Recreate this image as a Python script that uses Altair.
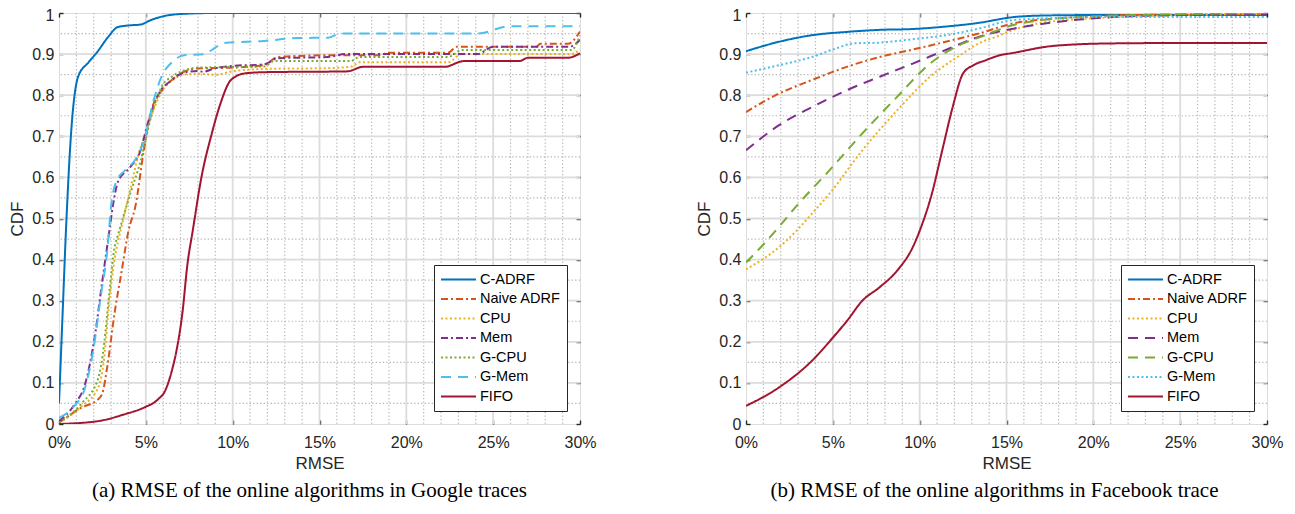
import altair as alt
import pandas as pd

SERIES = ["C-ADRF", "Naive ADRF", "CPU", "Mem", "G-CPU", "G-Mem", "FIFO"]
COLORS = ["#0072BD", "#D95319", "#EDB120", "#7E2F8E", "#77AC30", "#4DBEEE", "#A2142F"]

# ---------------- (a) Google traces ----------------
G_CADRF_X = [0, 0.2, 0.4, 0.7, 1.1, 1.7, 2.2, 2.8, 3.4, 4.1, 4.7, 5.3, 6.1, 7.2, 9, 30]
G_CADRF_Y = [0.05, 0.26, 0.47, 0.71, 0.845, 0.88, 0.905, 0.94, 0.966, 0.97, 0.972, 0.983, 0.993, 0.998, 1.0, 1.0]
G_NAIVE_X = [0, 1.3, 2.25, 2.5, 2.8, 3.2, 3.6, 4.0, 4.4, 4.9, 5.3, 5.9, 6.5, 7.2, 8.0, 9.9, 11.8, 12.6, 15.5, 18.5, 18.9, 22.4, 22.9, 27.5, 27.7, 29.3, 30]
G_NAIVE_Y = [0.003, 0.04, 0.06, 0.075, 0.145, 0.27, 0.37, 0.47, 0.53, 0.67, 0.76, 0.81, 0.837, 0.857, 0.865, 0.867, 0.873, 0.893, 0.897, 0.897, 0.903, 0.903, 0.918, 0.918, 0.925, 0.925, 0.955]
G_CPU_X = [0, 1.3, 2.25, 2.6, 2.9, 3.2, 3.6, 4.1, 4.6, 5.0, 5.5, 6.0, 6.5, 7.2, 8.0, 9.0, 10.0, 11.8, 15.5, 16.8, 17.3, 22.4, 23.2, 29.5, 30]
G_CPU_Y = [0.003, 0.043, 0.088, 0.16, 0.30, 0.40, 0.48, 0.57, 0.66, 0.71, 0.77, 0.815, 0.835, 0.85, 0.852, 0.85, 0.858, 0.864, 0.866, 0.869, 0.88, 0.88, 0.9, 0.9, 0.912]
G_MEM_X = [0, 0.9, 1.5, 2.05, 2.5, 2.9, 3.1, 3.4, 4.1, 4.7, 5.1, 5.7, 6.5, 7.2, 8.0, 8.3, 9.0, 9.9, 11.8, 12.6, 15.5, 16.5, 24.1, 25.0, 29.4, 30]
G_MEM_Y = [0.007, 0.048, 0.097, 0.21, 0.35, 0.47, 0.53, 0.59, 0.625, 0.666, 0.73, 0.80, 0.837, 0.855, 0.859, 0.857, 0.866, 0.871, 0.875, 0.89, 0.893, 0.9, 0.9, 0.918, 0.918, 0.935]
G_GCPU_X = [0, 1.3, 2.25, 2.6, 2.9, 3.2, 3.4, 4.1, 4.7, 5.3, 5.9, 6.5, 7.2, 8.0, 11.8, 12.4, 16.8, 17.3, 22.4, 23.2, 29.5, 30]
G_GCPU_Y = [0.003, 0.05, 0.11, 0.195, 0.32, 0.43, 0.46, 0.56, 0.64, 0.747, 0.82, 0.845, 0.86, 0.867, 0.87, 0.883, 0.883, 0.893, 0.893, 0.91, 0.91, 0.945]
G_GMEM_X = [0, 0.9, 1.5, 2.05, 2.4, 2.8, 3.0, 3.3, 3.8, 4.5, 4.9, 5.5, 5.9, 6.5, 7.2, 8.4, 8.8, 9.5, 11.8, 13.7, 15.5, 16.2, 24.1, 26.0, 30]
G_GMEM_Y = [0.015, 0.045, 0.088, 0.2, 0.31, 0.43, 0.53, 0.59, 0.617, 0.65, 0.69, 0.795, 0.845, 0.88, 0.897, 0.9, 0.91, 0.927, 0.932, 0.939, 0.94, 0.95, 0.95, 0.968, 0.968]
G_FIFO_X = [0, 2.25, 3.8, 4.9, 5.7, 6.1, 6.5, 6.8, 7.1, 7.4, 7.7, 8.2, 8.8, 9.3, 9.9, 10.7, 11.8, 16.6, 17.5, 22.2, 23.3, 26.5, 27.0, 29.3, 30]
G_FIFO_Y = [0, 0.007, 0.024, 0.04, 0.06, 0.08, 0.13, 0.186, 0.268, 0.39, 0.47, 0.6, 0.707, 0.78, 0.837, 0.853, 0.856, 0.858, 0.869, 0.869, 0.883, 0.883, 0.891, 0.891, 0.902]

# ---------------- (b) Facebook trace ----------------
F_CADRF_X = [0, 1.9, 3.8, 5.8, 7.7, 9.6, 11.5, 13.4, 15.4, 17.3, 20, 30]
F_CADRF_Y = [0.907, 0.93, 0.946, 0.954, 0.959, 0.961, 0.967, 0.976, 0.99, 0.994, 0.995, 0.995]
F_NAIVE_X = [0, 1.9, 3.8, 5.8, 7.7, 9.6, 11.5, 13.4, 15.4, 17.3, 19.2, 22, 30]
F_NAIVE_Y = [0.759, 0.804, 0.837, 0.869, 0.893, 0.911, 0.93, 0.95, 0.975, 0.985, 0.99, 0.995, 0.997]
F_CPU_X = [0, 1.9, 2.9, 3.8, 4.8, 6.7, 8.7, 10.6, 12.5, 13.4, 14.4, 15.4, 17.3, 19.2, 25, 30]
F_CPU_Y = [0.376, 0.43, 0.47, 0.512, 0.56, 0.666, 0.763, 0.845, 0.902, 0.926, 0.942, 0.959, 0.978, 0.985, 0.995, 0.998]
F_MEM_X = [0, 1.9, 3.8, 5.8, 7.7, 9.6, 11.5, 13.4, 15.4, 17.3, 19.2, 21.1, 25, 30]
F_MEM_Y = [0.666, 0.727, 0.771, 0.812, 0.845, 0.877, 0.91, 0.942, 0.962, 0.975, 0.984, 0.99, 0.995, 0.997]
F_GCPU_X = [0, 0.96, 1.9, 2.9, 4.8, 6.7, 8.7, 10.6, 12.5, 13.4, 15.4, 17.3, 19.2, 25, 30]
F_GCPU_Y = [0.393, 0.435, 0.48, 0.53, 0.617, 0.707, 0.796, 0.877, 0.926, 0.94, 0.971, 0.984, 0.99, 0.997, 1.0]
F_GMEM_X = [0, 1.9, 3.8, 5.2, 6.2, 7.7, 9.6, 11.5, 13.4, 15.4, 17.3, 20, 30]
F_GMEM_Y = [0.855, 0.873, 0.893, 0.914, 0.926, 0.928, 0.936, 0.946, 0.962, 0.983, 0.987, 0.99, 0.99]
F_FIFO_X = [0, 1.9, 3.8, 5.0, 5.8, 6.7, 7.7, 8.7, 9.6, 10.0, 10.7, 11.3, 11.9, 12.5, 13.1, 13.8, 14.6, 15.4, 17.3, 19.2, 21.1, 25, 30]
F_FIFO_Y = [0.044, 0.089, 0.154, 0.21, 0.25, 0.3, 0.333, 0.373, 0.43, 0.47, 0.56, 0.666, 0.771, 0.853, 0.873, 0.885, 0.897, 0.903, 0.918, 0.924, 0.926, 0.927, 0.927]

# tick / grid positions
X_TICKS = [0, 5, 10, 15, 20, 25, 30]
X_MAJOR_GRID = [5, 10, 15, 20, 25]
X_MINOR_GRID = [1, 2, 3, 4, 6, 7, 8, 9, 11, 12, 13, 14, 16, 17, 18, 19, 21, 22, 23, 24, 26, 27, 28, 29]
Y_TICKS = [0, 0.1, 0.2, 0.3, 0.4, 0.5, 0.6, 0.7, 0.8, 0.9, 1.0]
Y_MAJOR_GRID = [0.1, 0.2, 0.3, 0.4, 0.5, 0.6, 0.7, 0.8, 0.9]
Y_MINOR_GRID = [0.05, 0.15, 0.25, 0.35, 0.45, 0.55, 0.65, 0.75, 0.85, 0.95]

SOLID = [1, 0]
DASHDOT = [7, 3, 2, 3]
DOTTED = [2, 2.5]
DASHED = [10, 7]
DASHES_A = [SOLID, DASHDOT, DOTTED, DASHDOT, DOTTED, DASHED, SOLID]
DASHES_B = [SOLID, DASHDOT, DOTTED, DASHED, DASHED, DOTTED, SOLID]

CAPTION_A = "(a) RMSE of the online algorithms in Google traces"
CAPTION_B = "(b) RMSE of the online algorithms in Facebook trace"

AX = "#262626"
FONT = "Liberation Sans"


def build_df(xs_list, ys_list):
    rows = []
    for name, xs, ys in zip(SERIES, xs_list, ys_list):
        for i, (x, y) in enumerate(zip(xs, ys)):
            rows.append({"series": name, "x": x, "y": y, "order": i})
    return pd.DataFrame(rows)


df_a = build_df([G_CADRF_X, G_NAIVE_X, G_CPU_X, G_MEM_X, G_GCPU_X, G_GMEM_X, G_FIFO_X],
                [G_CADRF_Y, G_NAIVE_Y, G_CPU_Y, G_MEM_Y, G_GCPU_Y, G_GMEM_Y, G_FIFO_Y])
df_b = build_df([F_CADRF_X, F_NAIVE_X, F_CPU_X, F_MEM_X, F_GCPU_X, F_GMEM_X, F_FIFO_X],
                [F_CADRF_Y, F_NAIVE_Y, F_CPU_Y, F_MEM_Y, F_GCPU_Y, F_GMEM_Y, F_FIFO_Y])


def panel(df, dashes, caption, dx):
    xs = alt.Scale(domain=[0, 30], nice=False, zero=False)
    ys = alt.Scale(domain=[0, 1], nice=False, zero=False)
    minor_x = alt.Chart(pd.DataFrame({"v": X_MINOR_GRID})).mark_rule(
        color="#b5b5b5", strokeWidth=1.2, strokeDash=[1.3, 2.2]
    ).encode(x=alt.X("v:Q", scale=xs, axis=None))
    minor_y = alt.Chart(pd.DataFrame({"v": Y_MINOR_GRID})).mark_rule(
        color="#b5b5b5", strokeWidth=1.2, strokeDash=[1.3, 2.2]
    ).encode(y=alt.Y("v:Q", scale=ys, axis=None))
    major_x = alt.Chart(pd.DataFrame({"v": X_MAJOR_GRID})).mark_rule(
        color="#dcdcdc", strokeWidth=1.8
    ).encode(x=alt.X("v:Q", scale=xs, axis=alt.Axis(
        orient="top", values=X_TICKS, labels=False, title=None, domain=False, grid=False,
        ticks=True, tickSize=4, offset=-4, tickColor=AX, tickWidth=1.4)))
    major_y = alt.Chart(pd.DataFrame({"v": Y_MAJOR_GRID})).mark_rule(
        color="#dcdcdc", strokeWidth=1.8
    ).encode(y=alt.Y("v:Q", scale=ys, axis=alt.Axis(
        orient="right", values=Y_TICKS, labels=False, title=None, domain=False, grid=False,
        ticks=True, tickSize=4, offset=-4, tickColor=AX, tickWidth=1.4)))
    legend = alt.Legend(
        title=None, orient="none", legendX=375, legendY=252,
        symbolType="stroke", symbolSize=1225, symbolStrokeWidth=2,
        clipHeight=17, rowPadding=2.5, padding=6, labelOffset=3,
        labelFont=FONT, labelFontSize=14.5, labelColor="black", labelLimit=200,
        fillColor="white", strokeColor=AX,
    )
    lines = alt.Chart(df).mark_line(clip=True, strokeWidth=2, interpolate="monotone").encode(
        x=alt.X("x:Q", scale=xs, axis=alt.Axis(
            orient="bottom", values=X_TICKS, labelExpr="datum.value + '%'", title="RMSE",
            domain=False, grid=False, ticks=True, tickSize=4, offset=-4, tickColor=AX,
            tickWidth=1.4, labelPadding=10, labelFont=FONT, labelFontSize=16, labelColor=AX,
            titleFont=FONT, titleFontSize=17, titleFontWeight="normal", titleColor=AX,
            titlePadding=5, labelFlush=False)),
        y=alt.Y("y:Q", scale=ys, axis=alt.Axis(
            orient="left", values=Y_TICKS, format="~g", title="CDF",
            domain=False, grid=False, ticks=True, tickSize=4, offset=-4, tickColor=AX,
            tickWidth=1.4, labelPadding=5, labelFont=FONT, labelFontSize=16, labelColor=AX,
            labelOffset={"condition": {"test": "datum.value == 1", "value": 2}, "value": 0},
            titleFont=FONT, titleFontSize=17, titleFontWeight="normal", titleColor=AX,
            titlePadding=5, labelFlush=False)),
        color=alt.Color("series:N", scale=alt.Scale(domain=SERIES, range=COLORS), legend=legend),
        strokeDash=alt.StrokeDash("series:N", scale=alt.Scale(domain=SERIES, range=dashes), legend=legend),
        order=alt.Order("order:Q"),
    )
    return alt.layer(minor_x, minor_y, major_x, major_y, lines).properties(
        width=521, height=411,
        title=alt.TitleParams(caption, orient="bottom", anchor="middle", frame="group",
                              font="Liberation Serif", fontSize=21, fontWeight="normal",
                              color="black", offset=9, dx=dx),
    )


chart = alt.hconcat(
    panel(df_a, DASHES_A, CAPTION_A, -10),
    panel(df_b, DASHES_B, CAPTION_B, -12),
    spacing=98,
).resolve_scale(color="independent", strokeDash="independent").properties(
    padding={"left": 0, "top": -2, "right": 0, "bottom": 0}
).configure_view(stroke=AX, strokeWidth=1.5).configure(background="white")

chart.save("out.html", embed_options={"renderer": "svg", "actions": False})
